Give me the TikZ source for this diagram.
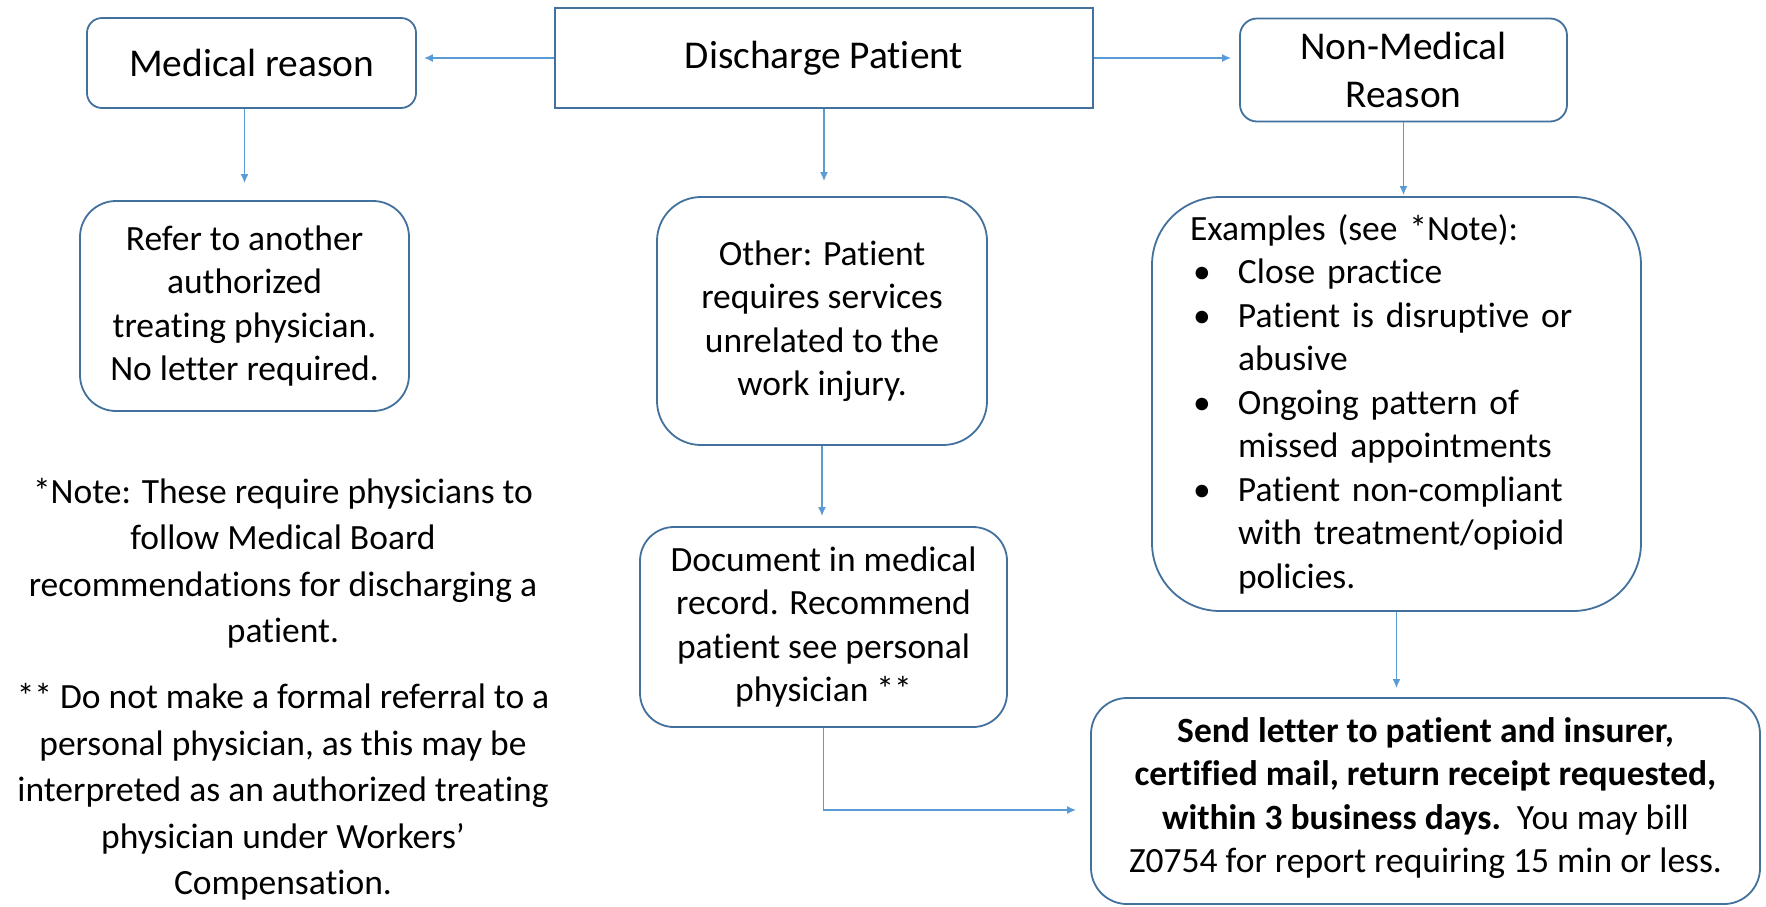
\documentclass[tikz,border=0pt]{standalone}
\usepackage{fontspec}
\setmainfont{Carlito}[RawFeature={-liga;-clig;-calt;-dlig}]
\usetikzlibrary{arrows.meta}
\definecolor{boxline}{HTML}{41719C}
\definecolor{arrowc}{HTML}{5B9BD5}
\newcommand\bodyfnt{\fontsize{17.75pt}{21.75pt}\selectfont}
\newcommand\topfnt{\fontsize{19.7pt}{24pt}\selectfont}
\newcommand\notefnt{\fontsize{17.75pt}{23.25pt}\selectfont}
\begin{document}
\begin{tikzpicture}[x=0.5pt,y=-0.5pt,
  box/.style={draw=boxline, line width=0.9pt, fill=white, align=center, inner sep=0pt, font=\bodyfnt},
  conn/.style={draw=arrowc, line width=0.8pt, -{Latex[length=4.5pt,width=4pt]}},
  notetext/.style={align=center, inner sep=0pt, font=\notefnt}]
\useasboundingbox[fill=white] (0,0) rectangle (1766,906);

\node[box, font=\topfnt, minimum width=164.5pt, minimum height=45pt, rounded corners=7.5pt] (med) at (251.5,63) {Medical reason};
\node[box, font=\topfnt, minimum width=269pt, minimum height=50pt] (dis) at (824,58) {Discharge Patient};
\node[box, font=\topfnt, minimum width=163.5pt, minimum height=51.5pt, rounded corners=8.5pt] (non) at (1403.5,70) {Non-Medical\\Reason};

\node[box, minimum width=164.5pt, minimum height=105pt, rounded corners=18pt] (ref) at (244.5,306)
  {Refer to another\\authorized\\treating physician.\\No letter required.};
\node[box, minimum width=165pt, minimum height=124pt, rounded corners=22pt] (oth) at (822,321)
  {Other: Patient\\requires services\\unrelated to the\\work injury.};
\node[box, align=left, text width=206.5pt, inner xsep=19pt, minimum height=207pt, rounded corners=34pt] (exa) at (1396.5,404)
  {Examples (see *Note):\\
   \makebox[24pt][l]{\hspace{1.5pt}\textbullet}Close practice\\
   \makebox[24pt][l]{\hspace{1.5pt}\textbullet}Patient is disruptive or\\
   \hspace*{24pt}abusive\\
   \makebox[24pt][l]{\hspace{1.5pt}\textbullet}Ongoing pattern of\\
   \hspace*{24pt}missed appointments\\
   \makebox[24pt][l]{\hspace{1.5pt}\textbullet}Patient non-compliant\\
   \hspace*{24pt}with treatment/opioid\\
   \hspace*{24pt}policies.};
\node[box, minimum width=183.5pt, minimum height=100pt, rounded corners=17pt] (doc) at (823.5,627)
  {Document in medical\\record. Recommend\\patient see personal\\physician **};
\node[box, minimum width=334.5pt, minimum height=103pt, rounded corners=18pt] (snd) at (1425.5,801)
  {\textbf{Send letter to patient and insurer,}\\
   \textbf{certified mail, return receipt requested,}\\
   \textbf{within 3 business days.}\ \ You may bill\\
   Z0754 for report requiring 15 min or less.\rule[-6pt]{0pt}{6pt}};

\node[notetext] (note1) at (283,563)
  {*Note: These require physicians to\\follow Medical Board\\recommendations for discharging a\\patient.};
\node[notetext] (note2) at (283,792)
  {** Do not make a formal referral to a\\personal physician, as this may be\\interpreted as an authorized treating\\physician under Workers’\\Compensation.};

\draw[conn, shorten >=3.5pt] (dis.west) -- (dis.west -| med.east);
\draw[conn, shorten >=4pt] (dis.east) -- (dis.east -| non.west);
\draw[conn, shorten >=8.5pt] (ref.north |- med.south) -- (ref.north);
\draw[conn, shorten >=7.5pt] (dis.south) -- (dis.south |- oth.north);
\draw[conn, shorten >=0.5pt] (non.south) -- (non.south |- exa.north);
\draw[conn, shorten >=5pt] (oth.south) -- (oth.south |- doc.north);
\draw[conn, shorten >=4.5pt] (exa.south) -- (exa.south |- snd.north);
\coordinate (sndin) at ([yshift=-4.5pt]snd.west);
\draw[conn, shorten >=7pt] (doc.south) |- (sndin);
\end{tikzpicture}
\end{document}
